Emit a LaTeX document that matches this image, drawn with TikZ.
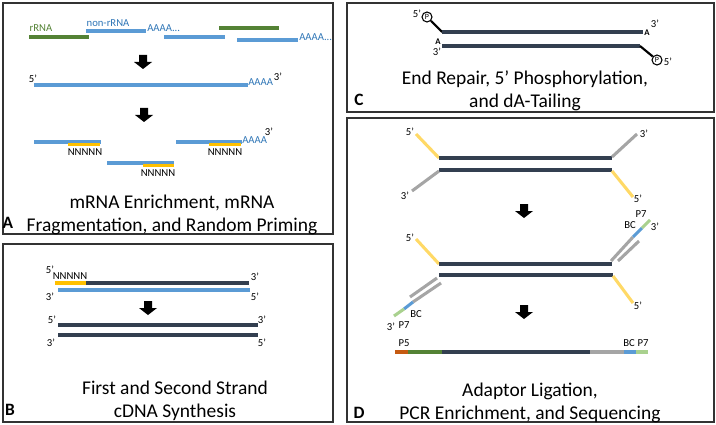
\documentclass[tikz,border=0pt]{standalone}
\usepackage{fontspec}
\setmainfont{Carlito}
\usetikzlibrary{positioning}
\definecolor{strandDark}{HTML}{333F50}
\definecolor{rnaBlue}{HTML}{5B9BD5}
\definecolor{rnaText}{HTML}{2E75B6}
\definecolor{rrnaGreen}{HTML}{548235}
\definecolor{primerGold}{HTML}{FFC000}
\definecolor{adaptGold}{HTML}{FFD966}
\definecolor{adaptGray}{HTML}{A5A5A5}
\definecolor{pFiveOrange}{HTML}{C55A11}
\definecolor{pSevenGreen}{HTML}{A9D18E}

\begin{document}
\begin{tikzpicture}[x=0.75pt, y=-0.75pt,
    panel/.style={draw=black!80, line width=1pt},
    strand/.style={line width=2.3pt},
    dna/.style={strand, strandDark, line width=2.9pt},
    rna/.style={strand, rnaBlue},
    adapt/.style={strand, adaptGray},
    lbl/.style={font=\fontsize{8}{9}\selectfont, inner sep=0pt},
    caption/.style={font=\fontsize{14.6}{17.2}\selectfont, align=center, inner sep=0pt},
    tag/.style={font=\fontsize{13}{15}\selectfont\bfseries, inner sep=0pt},
    tailA/.style={font=\fontsize{6.5}{8}\selectfont\bfseries, inner sep=0pt},
    phos/.style={circle, draw, line width=0.8pt, inner sep=0pt, minimum size=7.5pt,
      font=\fontsize{6}{7}\selectfont},
    stem/.style={line width=1.6pt, black},
    blockarrow/.pic={\fill[black] (-4,-7) -- (4,-7) -- (4,0) -- (9,0) -- (0,7)
      -- (-9,0) -- (-4,0) -- cycle;}]
  \useasboundingbox (0,0) rectangle (716,424);

  % A: enrichment, fragmentation, priming
  \draw[panel] (3,3) rectangle (333,234);
  \node[lbl, text=rrnaGreen] (rrnaLbl) at (41,28) {rRNA};
  \draw[strand, rrnaGreen] (29,37) -- (89,37);
  \draw[strand, rrnaGreen] (219,28) -- (279,28);
  \node[lbl, text=rnaText] (nonLbl) at (108,23) {non-rRNA};
  \draw[rna] (86,31) -- (146,31);
  \node[lbl, text=rnaText, anchor=base west] (tailOne) at (147,32) {AAAA...};
  \draw[rna] (164,37) -- (225,37);
  \draw[rna] (237,40) -- (298,40);
  \node[lbl, text=rnaText, anchor=base west] (tailTwo) at (299,41) {AAAA...};
  \node[lbl] (mFive) at (33,79) {5’};
  \draw[rna] (34,85) -- (248,85);
  \node[lbl, text=rnaText, anchor=base west] (tailThree) at (248,86) {AAAA};
  \node[lbl] (mThree) at (278,77) {3’};
  \draw[rna] (34,142) -- (101,142);
  \draw[strand, primerGold] (68,144.5) -- (100,144.5);
  \node[lbl] (nOne) at (85,152) {NNNNN};
  \draw[rna] (176,142) -- (242,142);
  \draw[strand, primerGold] (209,144.5) -- (241,144.5);
  \node[lbl, text=rnaText, anchor=base west] (tailFour) at (242,143) {AAAA};
  \node[lbl] (fThree) at (269,132) {3’};
  \node[lbl] (nTwo) at (225,152) {NNNNN};
  \draw[rna] (107,163) -- (174,163);
  \draw[strand, primerGold] (143,165.5) -- (174,165.5);
  \node[lbl] (nThree) at (158,173) {NNNNN};
  \node[caption] (capA) at (172,215) {mRNA Enrichment, mRNA\\Fragmentation, and Random Priming};
  \node[tag] (tagA) at (8,223) {A};

  % B: cDNA synthesis
  \draw[panel] (3,244) rectangle (333,422);
  \node[lbl] (bFiveA) at (50,270) {5’};
  \node[lbl] (bPrimer) at (70,276) {NNNNN};
  \draw[strand, primerGold] (55,283) -- (86,283);
  \draw[dna] (86,283) -- (249,283);
  \node[lbl] (bThreeA) at (255,277) {3’};
  \draw[rna] (58,290) -- (250,290);
  \node[lbl] (bThreeB) at (50,297) {3’};
  \node[lbl] (bFiveB) at (255,297) {5’};
  \node[lbl] (bFiveC) at (52,320) {5’};
  \node[lbl] (bThreeC) at (262,320) {3’};
  \draw[dna] (58,325) -- (258,325);
  \draw[dna] (58,335) -- (258,335);
  \node[lbl] (bThreeD) at (51,343) {3’};
  \node[lbl] (bFiveD) at (262,343) {5’};
  \node[caption] (capB) at (175,401) {First and Second Strand\\cDNA Synthesis};
  \node[tag] (tagB) at (10,410) {B};

  % C: end repair
  \draw[panel] (347,3) rectangle (714,112);
  \node[lbl] (cFiveA) at (417,14) {5’};
  \node[phos] (pTop) at (427,17) {P};
  \coordinate (cTopL) at (442,32);
  \draw[stem] (pTop) -- (cTopL);
  \draw[dna] (cTopL) -- (643,32);
  \node[tailA] (aTop) at (647,33) {A};
  \node[lbl] (cThreeA) at (655,24) {3’};
  \node[tailA] (aBot) at (438,42) {A};
  \node[lbl] (cThreeB) at (437,52) {3’};
  \coordinate (cBotR) at (640,46);
  \draw[dna] (442,46) -- (cBotR);
  \node[phos] (pBot) at (657,60) {P};
  \draw[stem] (cBotR) -- (pBot);
  \node[lbl] (cFiveB) at (668,62) {5’};
  \node[caption] (capC) at (525,91) {End Repair, 5’ Phosphorylation,\\and dA-Tailing};
  \node[tag] (tagC) at (359,100) {C};

  % D: adaptors and library
  \draw[panel] (347,118) rectangle (714,422);
  \node[lbl] (dFiveA) at (410,132) {5’};
  \draw[strand, adaptGold] (416,134) -- (439,158);
  \draw[dna] (439,158) -- (612,158);
  \draw[adapt] (612,157) -- (637,134);
  \node[lbl] (dThreeA) at (644,134) {3’};
  \draw[dna] (439,170) -- (612,170);
  \draw[adapt] (439,171) -- (412,191);
  \node[lbl] (dThreeB) at (405,196) {3’};
  \draw[strand, adaptGold] (612,171) -- (633,197);
  \node[lbl] (dFiveB) at (638,199) {5’};

  \node[lbl] (dFiveC) at (410,238) {5’};
  \draw[strand, adaptGold] (416,239) -- (439,264);
  \draw[dna] (439,264) -- (612,264);
  \draw[adapt] (611,261) -- (633,237);
  \draw[strand, rnaBlue] (633,237) -- (642,228);
  \draw[strand, pSevenGreen] (642,228) -- (650,220);
  \draw[adapt] (618,261) -- (639,241);
  \node[lbl] (pSevenA) at (641,214) {P7};
  \node[lbl] (bcA) at (630,225) {BC};
  \node[lbl] (dThreeC) at (655,227) {3’};
  \draw[dna] (439,275) -- (613,275);
  \draw[adapt] (437,278) -- (410,297);
  \draw[adapt] (441,283) -- (413,302);
  \draw[strand, rnaBlue] (413,302) -- (404,309);
  \draw[strand, pSevenGreen] (404,309) -- (394,316);
  \node[lbl] (bcB) at (416,314) {BC};
  \node[lbl] (dThreeD) at (391,327) {3’};
  \node[lbl] (pSevenB) at (404,325) {P7};
  \draw[strand, adaptGold] (613,276) -- (633,303);
  \node[lbl] (dFiveD) at (638,306) {5’};

  \node[lbl] (pFiveLbl) at (404,343) {P5};
  \node[lbl] (bcC) at (629,343) {BC};
  \node[lbl] (pSevenC) at (643,343) {P7};
  \draw[strand, pFiveOrange] (395,352) -- (408,352);
  \draw[strand, rrnaGreen] (408,352) -- (442,352);
  \draw[dna] (442,352) -- (590,352);
  \draw[adapt] (590,352) -- (624,352);
  \draw[strand, rnaBlue] (624,352) -- (636,352);
  \draw[strand, pSevenGreen] (636,352) -- (648,352);
  \node[caption] (capD) at (530,403) {Adaptor Ligation,\\PCR Enrichment, and Sequencing};
  \node[tag] (tagD) at (359,413) {D};

  \foreach \ax/\ay in {143/62, 144/115, 148/308, 524/211, 524/312}
    \pic at (\ax,\ay) {blockarrow};
\end{tikzpicture}
\end{document}
